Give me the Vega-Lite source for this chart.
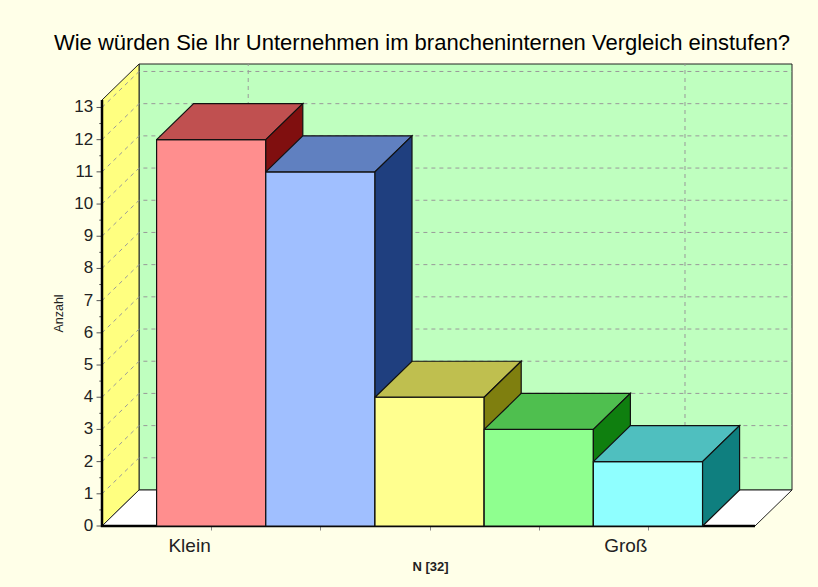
{
"$schema":"https://vega.github.io/schema/vega-lite/v6.json",
"width":690,"height":462,"autosize":"none",
"padding":{"left":102,"top":64,"right":26,"bottom":61},
"background":"#FFFFE8",
"title":{"text":"Wie würden Sie Ihr Unternehmen im brancheninternen Vergleich einstufen?","font":"Liberation Sans","fontSize":22,"fontWeight":"normal","color":"#000000","anchor":"middle","dx":-25,"offset":7},
"config":{"view":{"stroke":null}},
"datasets":{
"bars":[{"Kategorie":"Klein","pos":0,"Anzahl":12},{"Kategorie":"2","pos":1,"Anzahl":11},{"Kategorie":"3","pos":2,"Anzahl":4},{"Kategorie":"4","pos":3,"Anzahl":3},{"Kategorie":"Groß","pos":4,"Anzahl":2}],
"walls":[
{"w":"green","i":0,"x":0.339,"y":1.118},{"w":"green","i":1,"x":6.319,"y":1.118},{"w":"green","i":2,"x":6.319,"y":14.35},{"w":"green","i":3,"x":0.339,"y":14.35},{"w":"green","i":4,"x":0.339,"y":1.118},
{"w":"yellow","i":0,"x":0,"y":0},{"w":"yellow","i":1,"x":0.339,"y":1.118},{"w":"yellow","i":2,"x":0.339,"y":14.35},{"w":"yellow","i":3,"x":0,"y":13.232},{"w":"yellow","i":4,"x":0,"y":0},
{"w":"white","i":0,"x":0,"y":0},{"w":"white","i":1,"x":5.98,"y":0},{"w":"white","i":2,"x":6.319,"y":1.118},{"w":"white","i":3,"x":0.339,"y":1.118},{"w":"white","i":4,"x":0,"y":0}
],
"grid":[{"t":1},{"t":2},{"t":3},{"t":4},{"t":5},{"t":6},{"t":7},{"t":8},{"t":9},{"t":10},{"t":11},{"t":12},{"t":13}],
"yticks":[{"t":0},{"t":1},{"t":2},{"t":3},{"t":4},{"t":5},{"t":6},{"t":7},{"t":8},{"t":9},{"t":10},{"t":11},{"t":12},{"t":13}],
"vgrid":[{"g":1,"i":0,"x":1.339,"y":1.118},{"g":1,"i":1,"x":1.339,"y":14.35},{"g":5,"i":0,"x":5.339,"y":1.118},{"g":5,"i":1,"x":5.339,"y":14.35}],
"frame":[{"i":0,"x":0,"y":13.232},{"i":1,"x":0,"y":0},{"i":2,"x":5.98,"y":0}],
"minor":[{"v":0.5},{"v":1.5},{"v":2.5},{"v":3.5},{"v":4.5},{"v":5.5},{"v":6.5},{"v":7.5},{"v":8.5},{"v":9.5},{"v":10.5},{"v":11.5},{"v":12.5}]
},
"layer":[
{"data":{"name":"walls"},"mark":{"type":"line","stroke":"#222222","strokeWidth":1,"interpolate":"linear"},
 "encoding":{
  "x":{"field":"x","type":"quantitative","scale":{"domain":[0,6.319],"nice":false,"zero":false}},
  "y":{"field":"y","type":"quantitative","scale":{"domain":[0,14.35],"nice":false,"zero":false}},
  "fill":{"field":"w","type":"nominal","scale":{"domain":["green","yellow","white"],"range":["#BFFFBF","#FFFF80","#FFFFFF"]},"legend":null},
  "order":{"field":"i","type":"ordinal"},
  "detail":{"field":"w"}
 }},
{"data":{"name":"grid"},"transform":[{"calculate":"[0,1,2]","as":"i"},{"flatten":["i"]},{"calculate":"[0,0.339,6.319][datum.i]","as":"gx"},{"calculate":"datum.t+(datum.i==0?0:1.118)","as":"gy"}],
 "mark":{"type":"line","stroke":"#999999","strokeWidth":1,"strokeDash":[4,4]},
 "encoding":{"x":{"field":"gx","type":"quantitative"},"y":{"field":"gy","type":"quantitative"},"order":{"field":"i","type":"ordinal"},"detail":{"field":"t"}}},
{"data":{"name":"vgrid"},"mark":{"type":"line","stroke":"#999999","strokeWidth":1,"strokeDash":[4,4]},
 "encoding":{"x":{"field":"x","type":"quantitative"},"y":{"field":"y","type":"quantitative"},"order":{"field":"i","type":"ordinal"},"detail":{"field":"g"}}},
{"data":{"name":"minor"},"transform":[{"calculate":"-0.025","as":"a"},{"calculate":"0","as":"b"}],"mark":{"type":"rule","stroke":"#555555","strokeWidth":1},
 "encoding":{"x":{"field":"a","type":"quantitative"},"x2":{"field":"b"},"y":{"field":"v","type":"quantitative"}}},
{"data":{"name":"yticks"},"transform":[{"calculate":"-0.05","as":"a"},{"calculate":"0","as":"b"}],"mark":{"type":"rule","stroke":"#555555","strokeWidth":1},
 "encoding":{"x":{"field":"a","type":"quantitative"},"x2":{"field":"b"},"y":{"field":"t","type":"quantitative"}}},
{"data":{"name":"yticks"},"transform":[{"calculate":"-0.08","as":"a"}],"mark":{"type":"text","align":"right","baseline":"middle","font":"Liberation Sans","fontSize":17,"color":"#222222"},
 "encoding":{"x":{"field":"a","type":"quantitative"},"y":{"field":"t","type":"quantitative"},"text":{"field":"t","type":"quantitative","format":"d"}}},
{"data":{"name":"frame"},"mark":{"type":"line","stroke":"#000000","strokeWidth":2.5},
 "encoding":{"x":{"field":"x","type":"quantitative"},"y":{"field":"y","type":"quantitative"},"order":{"field":"i","type":"ordinal"}}},
{"data":{"name":"bars"},"transform":[
  {"calculate":"['front','top','side']","as":"face"},{"flatten":["face"]},
  {"calculate":"[0,1,2,3,4]","as":"i"},{"flatten":["i"]},
  {"calculate":"0.5+datum.pos","as":"p"},
  {"calculate":"datum.face=='front'?[datum.p,datum.p+1,datum.p+1,datum.p,datum.p][datum.i]:datum.face=='top'?[datum.p,datum.p+1,datum.p+1.339,datum.p+0.339,datum.p][datum.i]:[datum.p+1,datum.p+1.339,datum.p+1.339,datum.p+1,datum.p+1][datum.i]","as":"vx"},
  {"calculate":"datum.face=='front'?[0,0,datum.Anzahl,datum.Anzahl,0][datum.i]:datum.face=='top'?[datum.Anzahl,datum.Anzahl,datum.Anzahl+1.118,datum.Anzahl+1.118,datum.Anzahl][datum.i]:[0,1.118,datum.Anzahl+1.118,datum.Anzahl,0][datum.i]","as":"vy"},
  {"calculate":"datum.pos+'-'+datum.face","as":"key"}
 ],
 "mark":{"type":"line","stroke":"#111111","strokeWidth":1.2},
 "encoding":{
  "x":{"field":"vx","type":"quantitative",
    "axis":{"values":[1,2,3,4,5],"labelExpr":"datum.value==1?'Klein':datum.value==5?'Groß':''","labelAlign":"right","labelFont":"Liberation Sans","labelFontSize":19,"labelColor":"#222222","labelPadding":6,"labelOffset":-1,"tickSize":4,"tickColor":"#888888","domain":false,"grid":false,"title":"N [32]","titleFont":"Liberation Sans","titleFontSize":13,"titleFontWeight":"bold","titleColor":"#222222","titleX":328,"titleY":34,"titleAnchor":"middle","labelOverlap":false}},
  "y":{"field":"vy","type":"quantitative",
    "axis":{"labels":false,"ticks":false,"domain":false,"grid":false,"title":"Anzahl","titleFont":"Liberation Sans","titleFontSize":12.5,"titleFontWeight":"normal","titleColor":"#222222","titleX":-37,"titleY":249,"titleAnchor":"middle"}},
  "fill":{"field":"key","type":"nominal","sort":null,"scale":{"domain":["0-front","0-top","0-side","1-front","1-top","1-side","2-front","2-top","2-side","3-front","3-top","3-side","4-front","4-top","4-side"],"range":["#FF8E8E","#C05050","#800F0F","#A0BFFF","#6080C0","#1F3F7F","#FFFF8F","#BFBF4F","#7F7F0F","#8FFF8F","#4FBF4F","#0F7F0F","#8FFFFF","#4FBFBF","#0F7F7F"]},"legend":null},
  "order":{"field":"i","type":"ordinal"},
  "detail":{"field":"key"}
 }}
],
"resolve":{"scale":{"fill":"independent"}}
}
